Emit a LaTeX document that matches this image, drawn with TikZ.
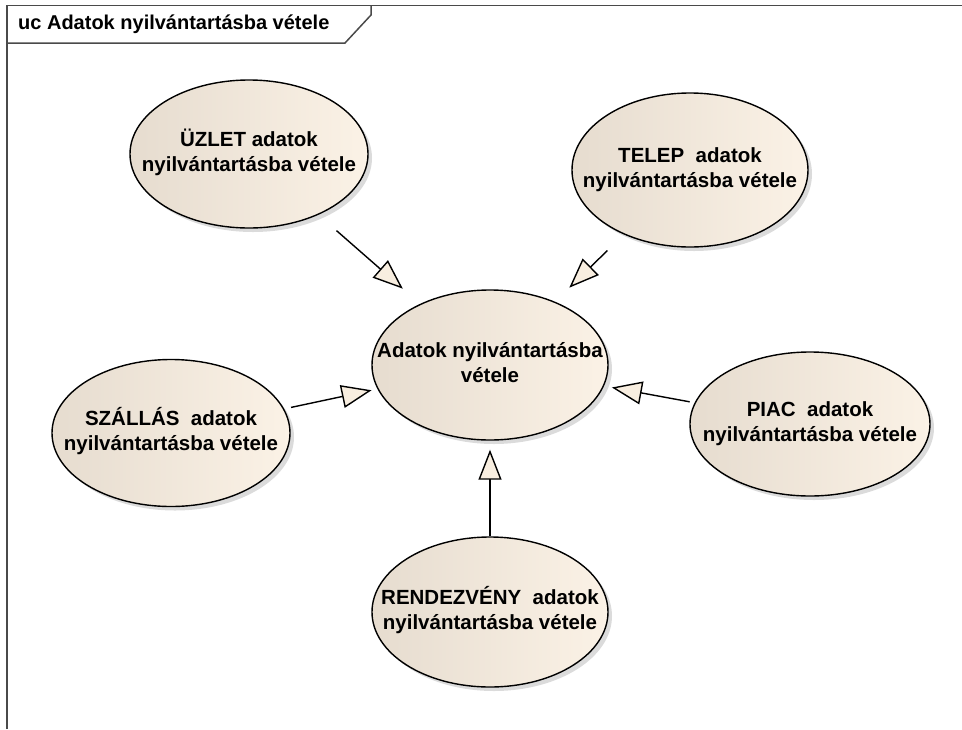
\documentclass[tikz,border=0pt]{standalone}
\usepackage{fontspec}
\setmainfont{Liberation Sans}
\usepackage{tikz}
\usetikzlibrary{arrows.meta,shapes.geometric,shadows}
\usepackage{xcolor}
\definecolor{ucLeft}{HTML}{E6DCCF}
\definecolor{ucRight}{HTML}{FBF2E6}
\definecolor{ucHead}{HTML}{F8EEE0}
\definecolor{ucFrame}{HTML}{4A4A4A}
\definecolor{ucShadow}{HTML}{B8B8B8}
% text of a use case, kept out of the ellipse size
\newcommand{\uctext}[1]{\makebox[0pt][c]{\begin{tabular}{@{}c@{}}#1\end{tabular}}}
\tikzset{
    usecase/.style={ellipse,draw=black,line width=1.4pt,left color=ucLeft,right color=ucRight,
        minimum width=236pt,minimum height=150pt,inner sep=0pt,
        font=\bfseries\fontsize{20.5}{25}\selectfont,
        drop shadow={shadow xshift=4pt,shadow yshift=-4pt,fill=ucShadow}},
    generalize/.style={-{Triangle[length=30pt,width=23pt,fill=ucHead]},line width=1.4pt,draw=black},
    frameline/.style={draw=ucFrame,line width=1.5pt},
    frametitle/.style={anchor=west,inner sep=0pt,font=\bfseries\fontsize{20}{24}\selectfont}
}

\begin{document}
\begin{tikzpicture}[x=1pt,y=-1pt]
\useasboundingbox (0,0) rectangle (962,729);

% Frame with title tab
\draw[frameline] (7,729) -- (7,5.5) -- (962,5.5);
\draw[frameline] (7,43) -- (345,43) -- (371,15) -- (371,5.5);
\node[frametitle] at (18,24) (title) {uc Adatok nyilvántartásba vétele};

% Central use case
\node[usecase] at (490,365) (adatok) {\uctext{Adatok nyilvántartásba\\vétele}};

% Specialised use cases round it
\node[usecase,minimum width=238pt,minimum height=148pt] at (249,154) (uzlet) {\uctext{ÜZLET adatok\\nyilvántartásba vétele}};
\node[usecase,minimum height=154pt] at (690,170) (telep) {\uctext{TELEP~ adatok\\nyilvántartásba vétele}};
\node[usecase,minimum width=238pt,minimum height=147pt] at (171,433) (szallas) {\uctext{SZÁLLÁS~ adatok\\nyilvántartásba vétele}};
\node[usecase,minimum width=240pt,minimum height=144pt] at (810,424) (piac) {\uctext{PIAC~ adatok\\nyilvántartásba vétele}};
\node[usecase] at (490,612) (rendezveny) {\uctext{RENDEZVÉNY~ adatok\\nyilvántartásba vétele}};

% Generalizations
\draw[generalize,shorten <=24pt,shorten >=23pt] (uzlet) -- (adatok);
\draw[generalize,shorten <=23pt,shorten >=20pt] (telep) -- (adatok);
\draw[generalize,shorten <=7pt,shorten >=6pt] (szallas) -- (adatok);
\draw[generalize,shorten <=5pt,shorten >=8pt] (piac) -- (adatok);
\draw[generalize,shorten >=9pt] (rendezveny) -- (adatok);

\end{tikzpicture}
\end{document}
